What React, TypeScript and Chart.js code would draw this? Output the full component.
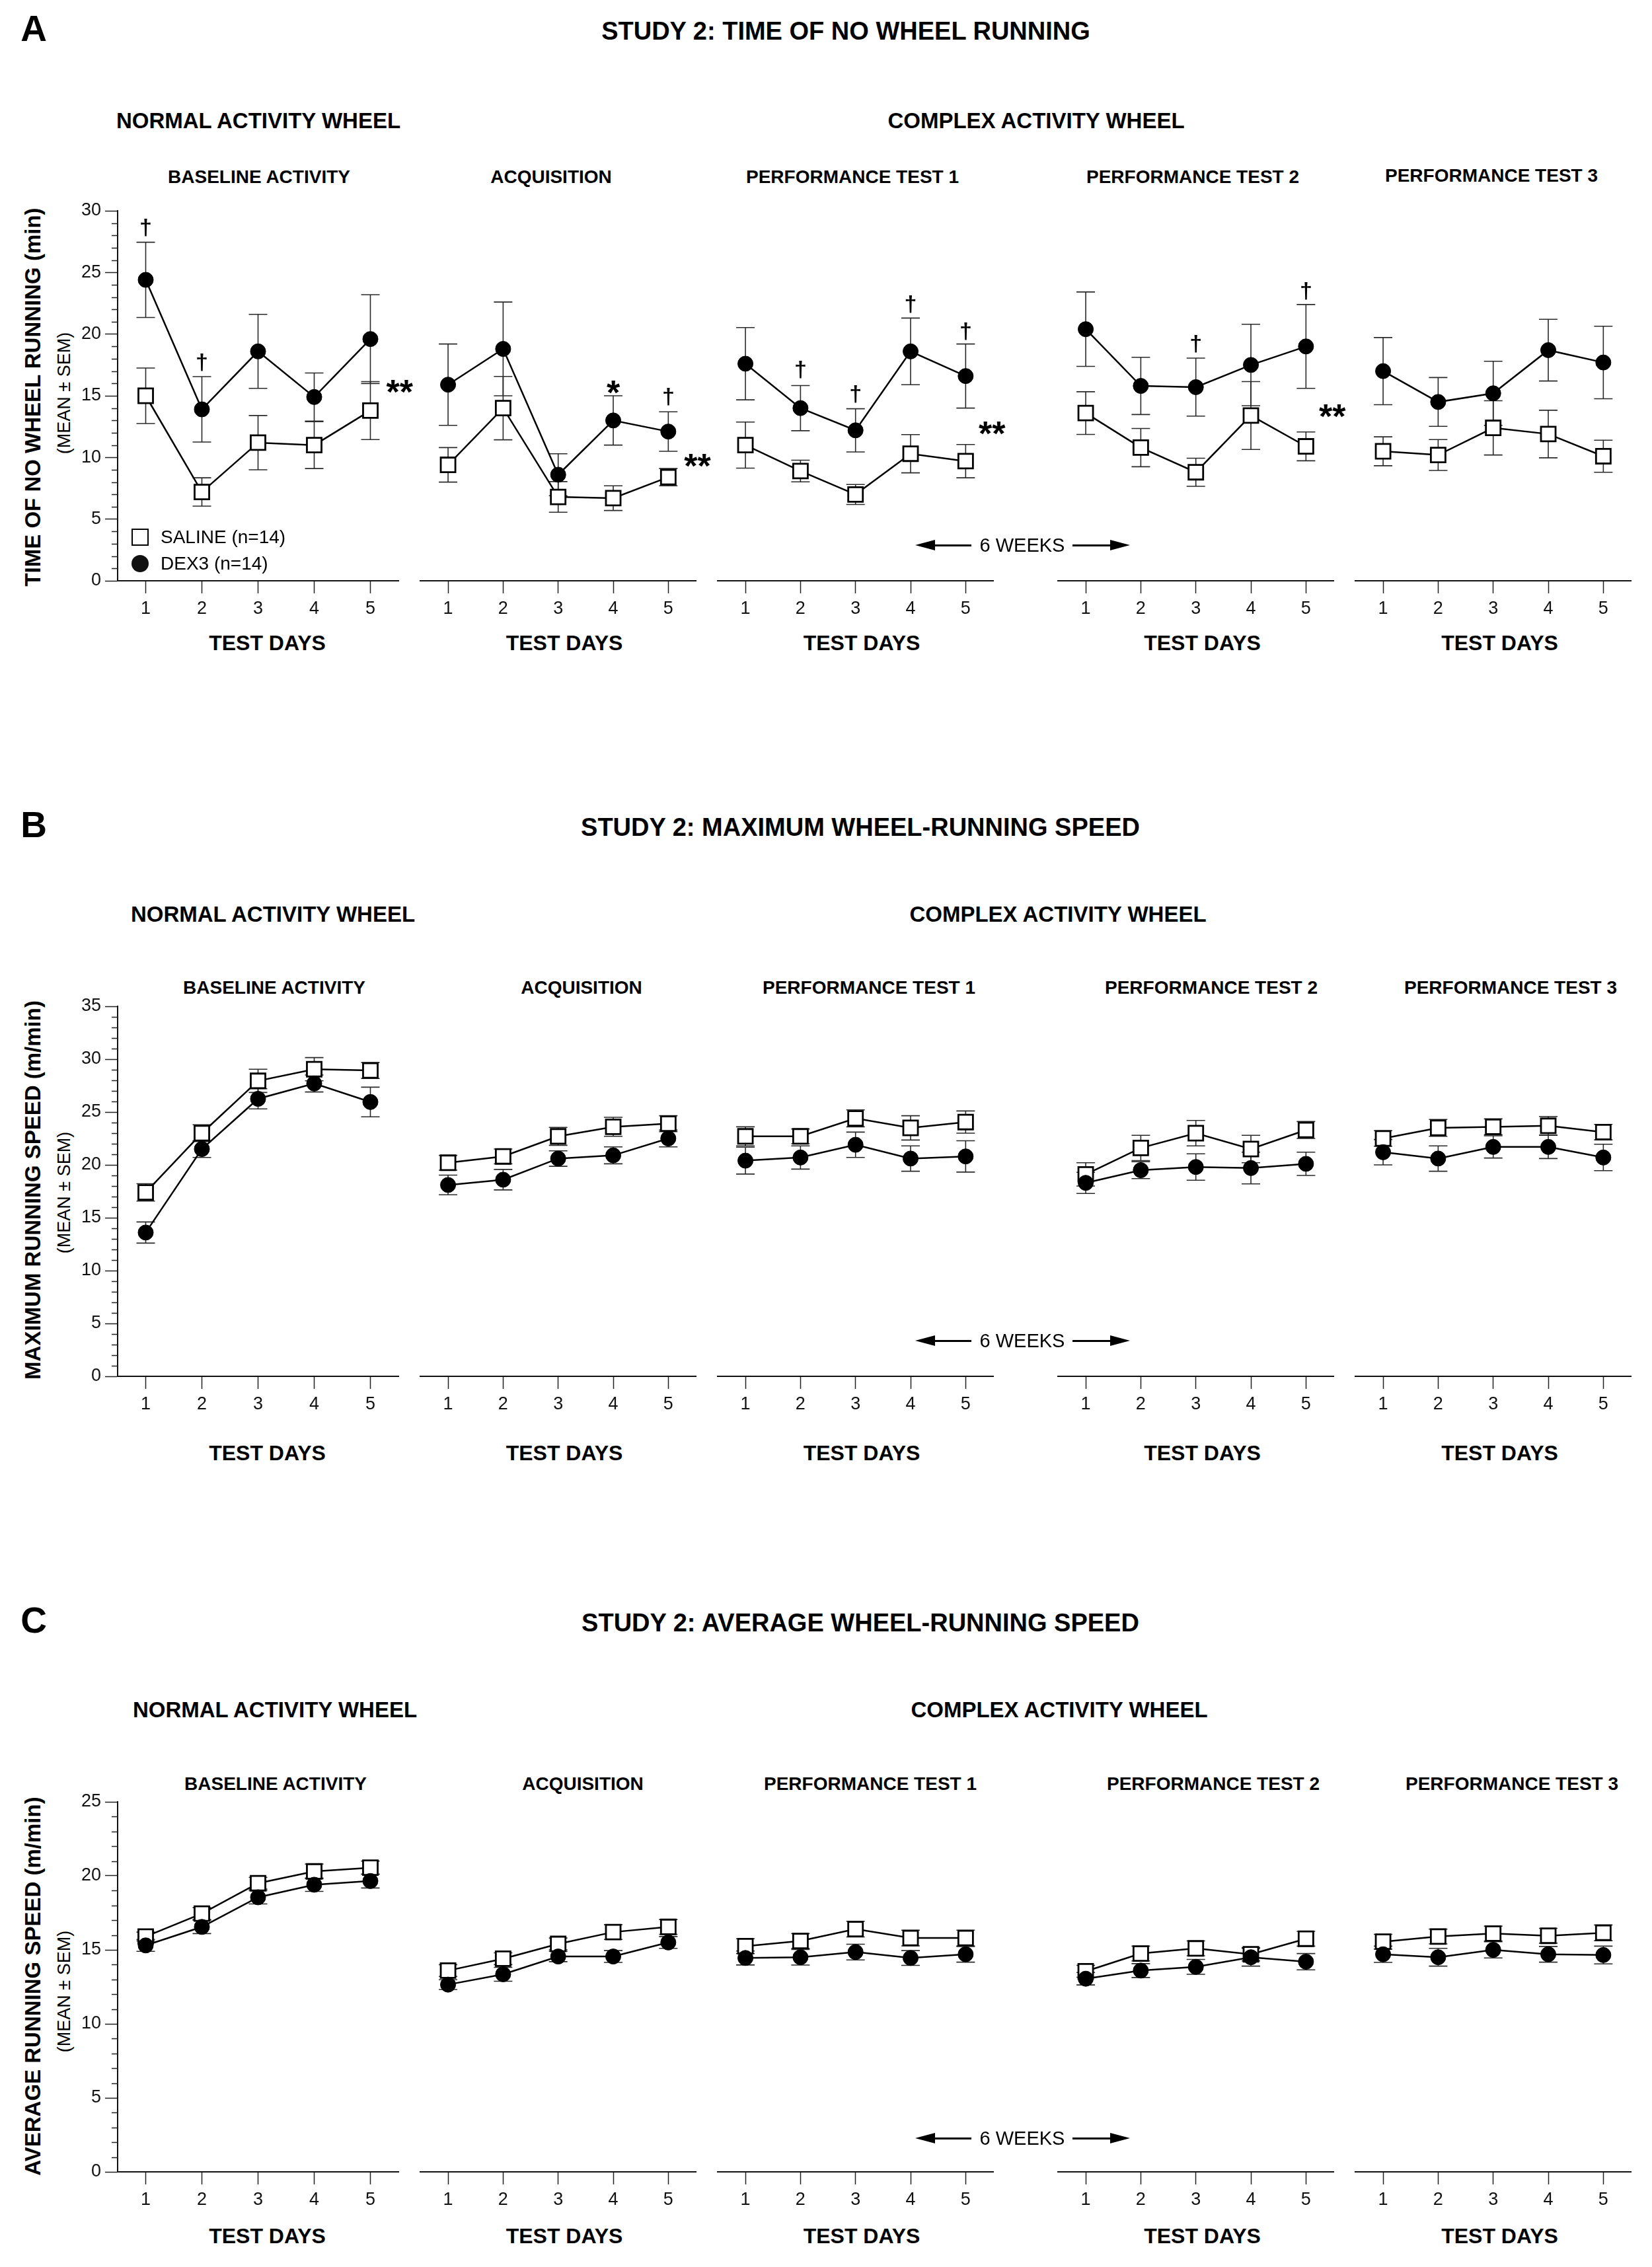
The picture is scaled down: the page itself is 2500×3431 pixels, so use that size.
import React, { useEffect, useRef } from 'react';
import { Chart, registerables } from 'chart.js';

Chart.register(...registerables);

const FONT = '"Liberation Sans", Arial, Helvetica, sans-serif';

// ---------------- DATA ----------------
const DAYS = [1, 2, 3, 4, 5];
const PHASES = ['BASELINE ACTIVITY', 'ACQUISITION', 'PERFORMANCE TEST 1', 'PERFORMANCE TEST 2', 'PERFORMANCE TEST 3'];
const GROUPS = ['NORMAL ACTIVITY WHEEL', 'COMPLEX ACTIVITY WHEEL'];
const SERIES = ['SALINE (n=14)', 'DEX3 (n=14)'];
const PANEL_LETTERS = ['A', 'B', 'C'];
const PANEL_TITLES = [
  'STUDY 2: TIME OF NO WHEEL RUNNING',
  'STUDY 2: MAXIMUM WHEEL-RUNNING SPEED',
  'STUDY 2: AVERAGE WHEEL-RUNNING SPEED',
];
const Y_TITLES = ['TIME OF NO WHEEL RUNNING (min)', 'MAXIMUM RUNNING SPEED (m/min)', 'AVERAGE RUNNING SPEED (m/min)'];
const Y_SUBTITLE = '(MEAN ± SEM)';
const X_TITLE = 'TEST DAYS';
const WEEKS_LABEL = '6 WEEKS';
const Y_MAX = [30, 35, 25];
const Y_MAJOR_STEP = 5;

// Panel A: time of no wheel running (min); rows = phases, cols = days
const NOWHEEL_SALINE = [
  [15.0, 7.2, 11.2, 11.0, 13.8],
  [9.4, 14.0, 6.8, 6.7, 8.4],
  [11.0, 8.9, 7.0, 10.3, 9.7],
  [13.6, 10.8, 8.8, 13.4, 10.9],
  [10.5, 10.2, 12.4, 11.9, 10.1],
];
const NOWHEEL_SALINE_SEM = [
  [2.25, 1.15, 2.2, 1.9, 2.35],
  [1.4, 2.57, 1.24, 1.0, 0.7],
  [1.87, 0.88, 0.81, 1.55, 1.35],
  [1.73, 1.55, 1.14, 2.75, 1.17],
  [1.17, 1.25, 2.2, 1.93, 1.3],
];
const NOWHEEL_DEX = [
  [24.4, 13.9, 18.6, 14.9, 19.6],
  [15.9, 18.8, 8.6, 13.0, 12.1],
  [17.6, 14.0, 12.2, 18.6, 16.6],
  [20.4, 15.8, 15.7, 17.5, 19.0],
  [17.0, 14.5, 15.2, 18.7, 17.7],
];
const NOWHEEL_DEX_SEM = [
  [3.05, 2.65, 3.0, 1.95, 3.6],
  [3.3, 3.8, 1.7, 2.0, 1.6],
  [2.93, 1.83, 1.75, 2.7, 2.6],
  [3.02, 2.32, 2.35, 3.3, 3.4],
  [2.72, 1.98, 2.6, 2.5, 2.94],
];

// Panel B: maximum running speed (m/min)
const MAXSPEED_SALINE = [
  [17.4, 23.0, 27.95, 29.05, 28.93],
  [20.2, 20.8, 22.7, 23.6, 23.9],
  [22.7, 22.7, 24.4, 23.5, 24.05],
  [19.1, 21.6, 23.0, 21.5, 23.3],
  [22.5, 23.5, 23.6, 23.7, 23.1],
];
const MAXSPEED_SALINE_SEM = [
  [0.82, 0.8, 1.1, 1.1, 0.75],
  [0.7, 0.7, 0.85, 0.9, 0.75],
  [0.9, 0.7, 0.8, 1.15, 1.05],
  [1.1, 1.2, 1.2, 1.3, 0.8],
  [0.73, 0.8, 0.75, 0.88, 0.73],
];
const MAXSPEED_DEX = [
  [13.6, 21.5, 26.25, 27.7, 25.95],
  [18.1, 18.6, 20.6, 20.9, 22.5],
  [20.4, 20.7, 21.9, 20.6, 20.8],
  [18.3, 19.5, 19.8, 19.7, 20.1],
  [21.2, 20.6, 21.7, 21.7, 20.7],
];
const MAXSPEED_DEX_SEM = [
  [1.0, 0.8, 0.95, 0.8, 1.4],
  [0.93, 0.97, 0.73, 0.8, 0.8],
  [1.27, 1.1, 1.2, 1.2, 1.48],
  [1.0, 0.8, 1.25, 1.5, 1.1],
  [1.2, 1.2, 1.05, 1.1, 1.25],
];

// Panel C: average running speed (m/min)
const AVGSPEED_SALINE = [
  [15.9, 17.45, 19.5, 20.3, 20.55],
  [13.6, 14.4, 15.4, 16.2, 16.55],
  [15.25, 15.6, 16.4, 15.8, 15.8],
  [13.55, 14.75, 15.1, 14.7, 15.75],
  [15.55, 15.9, 16.1, 15.95, 16.15],
];
const AVGSPEED_SALINE_SEM = [
  [0.3, 0.4, 0.4, 0.5, 0.45],
  [0.4, 0.4, 0.4, 0.5, 0.5],
  [0.5, 0.5, 0.53, 0.53, 0.53],
  [0.4, 0.5, 0.5, 0.45, 0.5],
  [0.5, 0.5, 0.5, 0.5, 0.53],
];
const AVGSPEED_DEX = [
  [15.3, 16.55, 18.55, 19.4, 19.65],
  [12.65, 13.35, 14.55, 14.55, 15.5],
  [14.45, 14.5, 14.85, 14.45, 14.7],
  [13.05, 13.6, 13.85, 14.5, 14.2],
  [14.7, 14.5, 15.0, 14.7, 14.65],
];
const AVGSPEED_DEX_SEM = [
  [0.4, 0.45, 0.45, 0.45, 0.47],
  [0.33, 0.47, 0.35, 0.4, 0.4],
  [0.47, 0.53, 0.53, 0.5, 0.53],
  [0.42, 0.47, 0.5, 0.6, 0.55],
  [0.55, 0.6, 0.55, 0.53, 0.6],
];

// Significance marks of panel A (data coordinates)
const SIG_MARKS_A = [
  [{ x: 1, y: 28.6, text: '†' }, { x: 2, y: 17.7, text: '†' }, { x: 5.52, y: 15.95, text: '**' }],
  [{ x: 4, y: 15.9, text: '*' }, { x: 5, y: 14.9, text: '†' }, { x: 5.53, y: 9.95, text: '**' }],
  [{ x: 2, y: 17.1, text: '†' }, { x: 3, y: 15.1, text: '†' }, { x: 4, y: 22.4, text: '†' }, { x: 5, y: 20.2, text: '†' }, { x: 5.48, y: 12.6, text: '**' }],
  [{ x: 3, y: 19.2, text: '†' }, { x: 5, y: 23.5, text: '†' }, { x: 5.48, y: 14.0, text: '**' }],
  [],
];

const SALINE = [NOWHEEL_SALINE, MAXSPEED_SALINE, AVGSPEED_SALINE];
const SALINE_SEM = [NOWHEEL_SALINE_SEM, MAXSPEED_SALINE_SEM, AVGSPEED_SALINE_SEM];
const DEX = [NOWHEEL_DEX, MAXSPEED_DEX, AVGSPEED_DEX];
const DEX_SEM = [NOWHEEL_DEX_SEM, MAXSPEED_DEX_SEM, AVGSPEED_DEX_SEM];
const SIG_MARKS = [SIG_MARKS_A, [[], [], [], [], []], [[], [], [], [], []]];

// ---------------- LAYOUT ----------------
const SUB_X0 = [178, 627.5, 1077.5, 1593, 2043];
const SUB_W = 425;
const LAYOUT = [
  { titleY: 47, titleX: 1280, groupY: 182, groupX: [391, 1568], subY: 268, subX: [392, 834, 1290, 1805, 2257], top: 319, bottom: 879, testY: 973, weeksY: 825, yTitleY: 601, meanY: 595 },
  { titleY: 1252, titleX: 1302, groupY: 1383, groupX: [413, 1601], subY: 1495, subX: [415, 880, 1315, 1833, 2286], top: 1523, bottom: 2083, testY: 2199, weeksY: 2029, yTitleY: 1801, meanY: 1805 },
  { titleY: 2456, titleX: 1302, groupY: 2587, groupX: [416, 1603], subY: 2700, subX: [417, 882, 1317, 1836, 2288], top: 2727, bottom: 3287, testY: 3384, weeksY: 3236, yTitleY: 3006, meanY: 3014 },
];
const PAD_L_FIRST = 150;
const PAD_L = 10;
const PAD_R = 70;
const PAD_T = 50;
const PAD_B = 90;

// ---------------- PLUGINS ----------------
const errorBarPlugin = {
  id: 'errorBars',
  beforeDatasetsDraw(chart: any) {
    const { ctx, scales } = chart;
    const xs = scales.x;
    const ys = scales.y;
    ctx.save();
    ctx.strokeStyle = '#2a2a2a';
    ctx.lineWidth = 1.6;
    chart.data.datasets.forEach((ds: any) => {
      const errs: number[] = ds.errors || [];
      ds.data.forEach((pt: any, i: number) => {
        const e = errs[i];
        if (e == null) return;
        const px = xs.getPixelForValue(pt.x);
        const yHi = ys.getPixelForValue(pt.y + e);
        const yLo = ys.getPixelForValue(pt.y - e);
        const cap = 14;
        ctx.beginPath();
        ctx.moveTo(px, yHi);
        ctx.lineTo(px, yLo);
        ctx.moveTo(px - cap, yHi);
        ctx.lineTo(px + cap, yHi);
        ctx.moveTo(px - cap, yLo);
        ctx.lineTo(px + cap, yLo);
        ctx.stroke();
      });
    });
    ctx.restore();
  },
};

function minorTickPlugin(yMax: number) {
  return {
    id: 'minorTicks',
    afterDraw(chart: any) {
      const { ctx, scales, chartArea } = chart;
      const ys = scales.y;
      ctx.save();
      ctx.strokeStyle = '#222';
      ctx.lineWidth = 1.5;
      for (let v = 0; v <= yMax; v++) {
        if (v % Y_MAJOR_STEP === 0) continue;
        const py = Math.round(ys.getPixelForValue(v)) + 0.5;
        ctx.beginPath();
        ctx.moveTo(chartArea.left - 9, py);
        ctx.lineTo(chartArea.left, py);
        ctx.stroke();
      }
      ctx.restore();
    },
  };
}

function sigMarkPlugin(marks: { x: number; y: number; text: string }[]) {
  return {
    id: 'sigMarks',
    afterDatasetsDraw(chart: any) {
      const { ctx, scales } = chart;
      ctx.save();
      ctx.fillStyle = '#000';
      ctx.textAlign = 'center';
      ctx.textBaseline = 'alphabetic';
      marks.forEach((m) => {
        const px = scales.x.getPixelForValue(m.x);
        const py = scales.y.getPixelForValue(m.y);
        if (m.text === '†') {
          const fs = 34;
          ctx.font = `bold ${fs}px ${FONT}`;
          ctx.fillText(m.text, px, py + 0.3 * fs);
        } else {
          const fs = 52;
          ctx.font = `bold ${fs}px ${FONT}`;
          ctx.fillText(m.text, px, py + 0.58 * fs);
        }
      });
      ctx.restore();
    },
  };
}

function buildConfig(p: number, ph: number): any {
  const first = ph === 0;
  const yMax = Y_MAX[p];
  const majors: { value: number }[] = [];
  for (let v = 0; v <= yMax; v += Y_MAJOR_STEP) majors.push({ value: v });
  const sal = SALINE[p][ph];
  const dex = DEX[p][ph];
  const plugins: any[] = [errorBarPlugin, sigMarkPlugin(SIG_MARKS[p][ph])];
  if (first) plugins.push(minorTickPlugin(yMax));
  return {
    type: 'line',
    data: {
      datasets: [
        {
          label: SERIES[1],
          data: DAYS.map((d, i) => ({ x: d, y: dex[i] })),
          errors: DEX_SEM[p][ph],
          order: 0,
          borderColor: '#000',
          borderWidth: 2.5,
          tension: 0,
          clip: false,
          pointStyle: 'circle',
          pointRadius: 11.5,
          pointBackgroundColor: '#000',
          pointBorderColor: '#000',
          pointBorderWidth: 1,
        },
        {
          label: SERIES[0],
          data: DAYS.map((d, i) => ({ x: d, y: sal[i] })),
          errors: SALINE_SEM[p][ph],
          order: 1,
          borderColor: '#000',
          borderWidth: 2.5,
          tension: 0,
          clip: false,
          pointStyle: 'rect',
          pointRadius: 15.6,
          pointBackgroundColor: '#fff',
          pointBorderColor: '#000',
          pointBorderWidth: 2.8,
        },
      ],
    },
    options: {
      responsive: false,
      animation: false,
      events: [],
      layout: { padding: { left: first ? 0 : PAD_L, right: PAD_R, top: PAD_T, bottom: 0 } },
      plugins: { legend: { display: false }, tooltip: { enabled: false }, title: { display: false } },
      scales: {
        x: {
          type: 'linear',
          min: 0.5,
          max: 5.5,
          afterBuildTicks: (s: any) => {
            s.ticks = DAYS.map((v) => ({ value: v }));
          },
          afterFit: (s: any) => {
            s.height = PAD_B;
          },
          grid: { display: true, drawOnChartArea: false, drawTicks: true, tickLength: 19, tickWidth: 1.5, tickColor: '#222' },
          border: { display: true, color: '#111', width: 2 },
          ticks: {
            font: { family: FONT, size: 27 },
            color: '#111',
            padding: 7,
            autoSkip: false,
            maxRotation: 0,
            callback: (v: any) => String(v),
          },
        },
        y: {
          type: 'linear',
          min: 0,
          max: yMax,
          display: first,
          afterBuildTicks: (s: any) => {
            s.ticks = majors.map((t) => ({ value: t.value }));
          },
          afterFit: first
            ? (s: any) => {
                s.width = PAD_L_FIRST;
              }
            : undefined,
          grid: { display: true, drawOnChartArea: false, drawTicks: true, tickLength: 19, tickWidth: 1.5, tickColor: '#222' },
          border: { display: true, color: '#111', width: 2 },
          ticks: {
            font: { family: FONT, size: 27 },
            color: '#111',
            padding: 6,
            callback: (v: any) => String(v),
          },
        },
      },
    },
    plugins,
  };
}

// ---------------- COMPONENTS ----------------
function SubChart({ p, ph }: { p: number; ph: number }) {
  const ref = useRef<HTMLCanvasElement>(null);
  const lay = LAYOUT[p];
  const L = ph === 0 ? PAD_L_FIRST : PAD_L;
  const left = SUB_X0[ph] - L;
  const top = lay.top - PAD_T;
  const width = SUB_W + L + PAD_R;
  const height = lay.bottom - lay.top + PAD_T + PAD_B;
  useEffect(() => {
    const chart = new Chart(ref.current as HTMLCanvasElement, buildConfig(p, ph));
    return () => chart.destroy();
  }, [p, ph]);
  return (
    <canvas
      ref={ref}
      width={width}
      height={height}
      style={{ position: 'absolute', left, top, width, height }}
    />
  );
}

function Txt({
  x,
  y,
  size,
  bold = false,
  align = 'center',
  rotate = false,
  children,
}: {
  x: number;
  y: number;
  size: number;
  bold?: boolean;
  align?: 'center' | 'left';
  rotate?: boolean;
  children: React.ReactNode;
}) {
  const tx = align === 'center' ? '-50%' : '0';
  return (
    <div
      style={{
        position: 'absolute',
        left: x,
        top: y,
        transform: `translate(${tx}, -50%)${rotate ? ' rotate(-90deg)' : ''}`,
        fontFamily: FONT,
        fontSize: size,
        fontWeight: bold ? 700 : 400,
        lineHeight: 1,
        whiteSpace: 'nowrap',
        color: '#000',
      }}
    >
      {children}
    </div>
  );
}

function WeeksArrow({ y }: { y: number }) {
  const head = 30;
  const hh = 8.5;
  return (
    <>
      <div style={{ position: 'absolute', left: 1385, top: y - hh, width: 0, height: 0, borderTop: `${hh}px solid transparent`, borderBottom: `${hh}px solid transparent`, borderRight: `${head}px solid #000` }} />
      <div style={{ position: 'absolute', left: 1385 + head - 2, top: y - 1.5, width: 1470 - 1385 - head + 2, height: 3, background: '#000' }} />
      <Txt x={1547} y={y} size={29}>{WEEKS_LABEL}</Txt>
      <div style={{ position: 'absolute', left: 1623, top: y - 1.5, width: 1710 - 1623 - head + 2, height: 3, background: '#000' }} />
      <div style={{ position: 'absolute', left: 1710 - head, top: y - hh, width: 0, height: 0, borderTop: `${hh}px solid transparent`, borderBottom: `${hh}px solid transparent`, borderLeft: `${head}px solid #000` }} />
    </>
  );
}

function Legend() {
  return (
    <>
      <div style={{ position: 'absolute', left: 199, top: 800, width: 26, height: 26, border: '2.6px solid #000', boxSizing: 'border-box', background: '#fff' }} />
      <Txt x={243} y={813} size={28} align="left">{SERIES[0]}</Txt>
      <div style={{ position: 'absolute', left: 199, top: 840, width: 26, height: 26, borderRadius: '50%', background: '#111' }} />
      <Txt x={243} y={853} size={28} align="left">{SERIES[1]}</Txt>
    </>
  );
}

function Panel({ p }: { p: number }) {
  const lay = LAYOUT[p];
  return (
    <>
      <Txt x={51} y={lay.titleY - 4} size={55} bold>{PANEL_LETTERS[p]}</Txt>
      <Txt x={lay.titleX} y={lay.titleY} size={38} bold>{PANEL_TITLES[p]}</Txt>
      <Txt x={lay.groupX[0]} y={lay.groupY} size={33} bold>{GROUPS[0]}</Txt>
      <Txt x={lay.groupX[1]} y={lay.groupY} size={33} bold>{GROUPS[1]}</Txt>
      {PHASES.map((ph, i) => (
        <Txt key={'s' + i} x={lay.subX[i]} y={lay.subY - (p === 0 && i === 4 ? 2 : 0)} size={28} bold>
          {ph}
        </Txt>
      ))}
      {PHASES.map((_, i) => (
        <Txt key={'t' + i} x={SUB_X0[i] + SUB_W / 2 + 14} y={lay.testY} size={32} bold>
          {X_TITLE}
        </Txt>
      ))}
      <Txt x={49} y={lay.yTitleY} size={33} bold rotate>{Y_TITLES[p]}</Txt>
      <Txt x={97} y={lay.meanY} size={27} rotate>{Y_SUBTITLE}</Txt>
      {PHASES.map((_, i) => (
        <SubChart key={'c' + i} p={p} ph={i} />
      ))}
      <WeeksArrow y={lay.weeksY} />
      {p === 0 && <Legend />}
    </>
  );
}

export default function App() {
  return (
    <div style={{ position: 'absolute', left: 0, top: 0, width: 2500, height: 3431, background: '#fff', overflow: 'hidden' }}>
      {[0, 1, 2].map((p) => (
        <Panel key={p} p={p} />
      ))}
    </div>
  );
}
